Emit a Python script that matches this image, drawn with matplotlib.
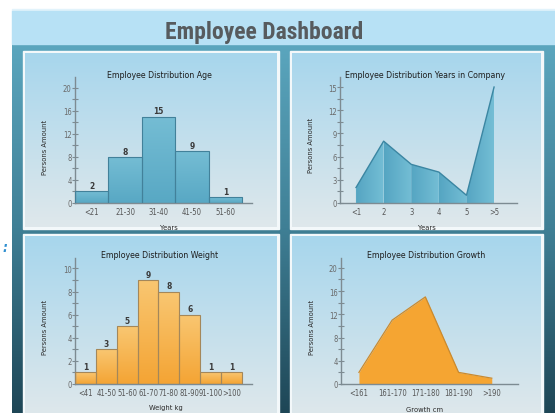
import numpy as np
import matplotlib.pyplot as plt
from matplotlib.colors import LinearSegmentedColormap
from matplotlib.patches import Rectangle, Polygon

W, H = 555, 414

age_labels = ["<21", "21-30", "31-40", "41-50", "51-60"]
age_values = [2, 8, 15, 9, 1]
years_labels = ["<1", "2", "3", "4", "5", ">5"]
years_values = [2, 8, 5, 4, 1, 15]
weight_labels = ["<41", "41-50", "51-60", "61-70", "71-80", "81-90", "91-100", ">100"]
weight_values = [1, 3, 5, 9, 8, 6, 1, 1]
growth_labels = ["<161", "161-170", "171-180", "181-190", ">190"]
growth_values = [2, 11, 15, 2, 1]

plt.rcParams["font.family"] = ["DejaVu Sans"]
plt.rcParams["font.stretch"] = "condensed"

fig = plt.figure(figsize=(W / 100, H / 100), dpi=100)
fig.patch.set_facecolor("white")
bg = fig.add_axes([0, 0, 1, 1])
bg.axis("off")


def vgrad(ax, extent, colors, z=0, horizontal=False, clip=None):
    cmap = LinearSegmentedColormap.from_list("g", colors)
    arr = np.linspace(0, 1, 256)
    arr = arr.reshape(1, -1) if horizontal else arr.reshape(-1, 1)
    im = ax.imshow(arr, cmap=cmap, extent=extent, aspect="auto", zorder=z,
                   interpolation="bilinear")
    if clip is not None:
        im.set_clip_path(clip)
    return im


# dashboard background (pixel coords, y down)
bg.add_patch(Rectangle((12, 10), W, 2, color="#e2f3fb", zorder=1))
bg.add_patch(Rectangle((12, 12), W, 33, color="#b7e1f5", zorder=1))
vgrad(bg, (12, W, H, 45), ["#5ba6be", "#3f7f95", "#1e4656"], z=0)
bg.text(264, 32, "Employee Dashboard", fontsize=17, fontweight="bold",
        color="#575b5e", ha="center", va="center", zorder=5,
        family=["Roboto Condensed", "DejaVu Sans"], fontstretch="normal")
bg.text(2, 248, ":", fontsize=10, fontweight="bold", color="#2f8fd0",
        ha="left", va="center", style="italic")

panels = [(23, 52, 279, 230), (290, 52, 543, 230),
          (23, 235, 279, 420), (290, 235, 543, 420)]
for l, t, r, b in panels:
    bg.add_patch(Rectangle((l, t), r - l, b - t, color="#f3f8fa", zorder=1))
    vgrad(bg, (l + 2, r - 2, b - 2, t + 2), ["#a7d6ed", "#dfe8eb"], z=2)
bg.set_xlim(0, W)
bg.set_ylim(H, 0)

AX_C = "#7d8b92"


def px_axes(l, t, r, b):
    return fig.add_axes([l / W, 1 - b / H, (r - l) / W, (b - t) / H])


def style(ax, labels, ymax, ystep, ytop, xlim):
    ax.patch.set_alpha(0)
    for s in ["top", "right"]:
        ax.spines[s].set_visible(False)
    for s in ["left", "bottom"]:
        ax.spines[s].set_color(AX_C)
        ax.spines[s].set_linewidth(1)
    ax.set_yticks(np.arange(0, ymax + 0.01, ystep))
    ax.set_yticks(np.arange(ystep / 2, ymax, ystep), minor=True)
    ax.tick_params(axis="y", which="both", direction="inout", length=4,
                   width=0.8, color=AX_C, labelsize=5.5, labelcolor="#6a6a6a",
                   pad=0.5)
    ax.set_xticks(range(len(labels)))
    ax.set_xticklabels(labels)
    ax.tick_params(axis="x", length=0, labelsize=5.5, labelcolor="#555555",
                   pad=3)
    ax.set_xlim(*xlim)
    ax.set_ylim(0, ytop)


def bars(ax, values, top_c, bot_c, edge):
    for i, v in enumerate(values):
        rect = Rectangle((i - 0.5, 0), 1, v, facecolor="none", edgecolor=edge,
                         linewidth=0.8, zorder=3)
        ax.add_patch(rect)
        vgrad(ax, (i - 0.5, i + 0.5, 0, v), [top_c, bot_c], z=2, clip=rect)
        ax.annotate(str(v), (i, v), xytext=(0, 1), textcoords="offset points",
                    ha="center", va="bottom", fontsize=6, fontweight="bold",
                    color="#3a3a3a")


def texts(title, tx, ty, yl, yx, yy, xl, xx, xy):
    bg.text(tx, ty, title, fontsize=6.3, color="#1e1e1e", ha="center",
            va="center", zorder=6)
    bg.text(yx, yy, yl, fontsize=5.4, color="#2a2a2a", rotation=90,
            ha="center", va="center", zorder=6)
    bg.text(xx, xy, xl, fontsize=5.4, color="#2a2a2a", ha="center",
            va="center", zorder=6)


# top-left: age
ax1 = px_axes(75, 78, 252, 204)
style(ax1, age_labels, 20, 4, 21.9, (-0.5, 4.8))
bars(ax1, age_values, "#75bdd4", "#58a8c4", "#42819a")
texts("Employee Distribution Age", 159, 75, "Persons Amount", 45, 147,
      "Years", 169, 228)

# top-right: years in company
ax2 = px_axes(340, 78, 517, 204)
style(ax2, years_labels, 15, 3, 16.3, (-0.58, 5.83))
for i in range(len(years_values) - 1):
    pts = [(i, 0), (i, years_values[i]), (i + 1, years_values[i + 1]),
           (i + 1, 0)]
    poly = Polygon(pts, closed=True, facecolor="none", edgecolor="none")
    ax2.add_patch(poly)
    vgrad(ax2, (i, i + 1, 0, max(years_values[i], years_values[i + 1])),
          ["#55a5c2", "#74bed5"], z=2, horizontal=True, clip=poly)
ax2.plot(range(len(years_values)), years_values, color="#3b86a2", lw=1,
         zorder=4)
ax2.plot([0, 0], [0, years_values[0]], color="#5aa8c4", lw=0.8, zorder=4)
ax2.set_xlim(-0.58, 5.83)
ax2.set_ylim(0, 16.3)
texts("Employee Distribution Years in Company", 425, 75, "Persons Amount",
      311, 145, "Years", 427, 228)

# bottom-left: weight
ax3 = px_axes(75, 259, 252, 385)
style(ax3, weight_labels, 10, 2, 10.9, (-0.5, 7.98))
bars(ax3, weight_values, "#f9c772", "#f4a434", "#a4875a")
texts("Employee Distribution Weight", 160, 256, "Persons Amount", 45, 327,
      "Weight kg", 166, 408)

# bottom-right: growth
ax4 = px_axes(341, 259, 518, 385)
style(ax4, growth_labels, 20, 4, 21.7, (-0.54, 4.79))
gx = np.arange(len(growth_values))
ax4.fill_between(gx, 0, growth_values, color="#f5a532", zorder=2, lw=0)
ax4.plot(gx, growth_values, color="#c98a30", lw=0.9, zorder=3)
texts("Employee Distribution Growth", 426, 256, "Persons Amount", 312, 327,
      "Growth cm", 425, 410)

fig.savefig("out.png", dpi=100)
